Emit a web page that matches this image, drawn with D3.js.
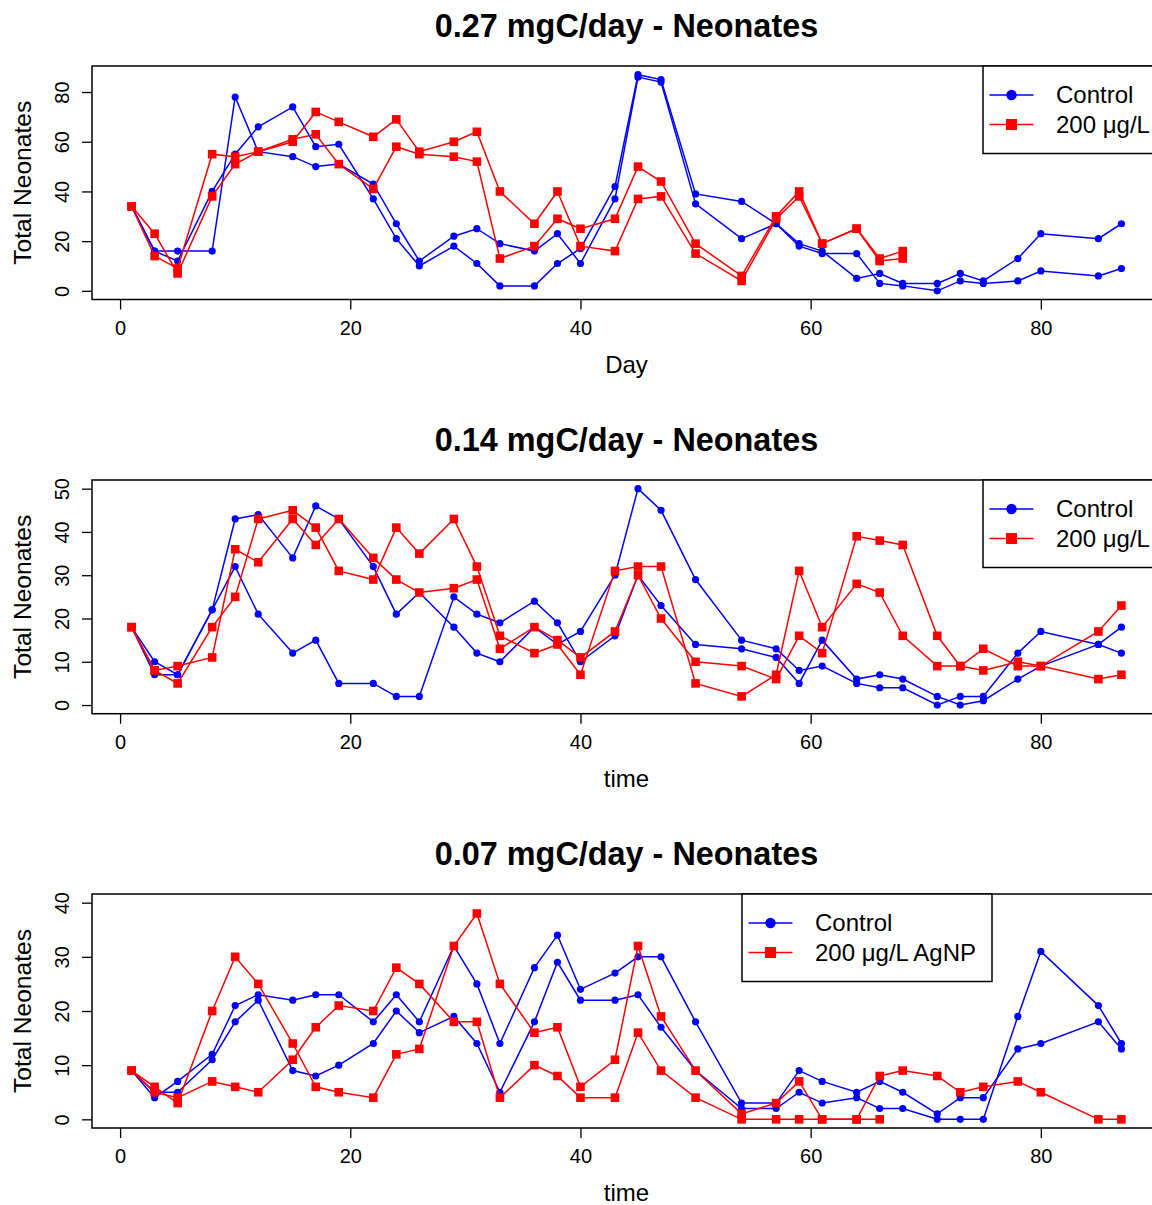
<!DOCTYPE html>
<html>
<head>
<meta charset="utf-8">
<script src="https://cdn.jsdelivr.net/npm/d3@7"></script>
<style>
  body { margin: 0; background: #fff; }
  svg { display: block; font-family: "Liberation Sans", Arial, Helvetica, sans-serif; }
</style>
</head>
<body>
<svg id="chart" width="1152" height="1205"></svg>
<script>
// ---- Data ----
const days = [1,3,5,8,10,12,15,17,19,22,24,26,29,31,33,36,38,40,43,45,47,50,54,57,59,61,64,66,68,71,73,75,78,80,85,87];

const xTicks = [0, 20, 40, 60, 80];
const p1YTicks = [0, 20, 40, 60, 80];
const p2YTicks = [0, 10, 20, 30, 40, 50];
const p3YTicks = [0, 10, 20, 30, 40];

const titles = ["0.27 mgC/day - Neonates", "0.14 mgC/day - Neonates", "0.07 mgC/day - Neonates"];
const xLabels = ["Day", "time", "time"];
const yLabel = "Total Neonates";
const legendLabels1 = ["Control", "200 \u03bcg/L"];
const legendLabels3 = ["Control", "200 \u03bcg/L AgNP"];

// Panel 1 (0.27 mgC/day)
const p1Control1 = [34,16,16,16,78,56,54,50,51,43,27,12,22,25,19,16,23,11,37,86,84,35,21,27,18,15,15,3,2,0,4,3,4,8,6,9];
const p1Control2 = [34,16,12,40,55,66,74,58,59,37,21,10,18,11,2,2,11,17,42,87,85,39,36,27,19,16,5,7,3,3,7,4,13,23,21,27];
const p1Treat1   = [34,23,7,38,51,56,61,63,51,41,58,55,54,52,13,18,29,25,29,50,44,19,6,30,40,19,25,13,16];
const p1Treat2   = [34,14,9,55,54,56,60,72,68,62,69,56,60,64,40,27,40,18,16,37,38,15,4,29,38,19,25,12,13];

// Panel 2 (0.14 mgC/day)
const p2Control1 = [18,10,7,22,43,44,34,46,43,32,21,26,18,12,10,18,14,17,30,50,45,29,15,13,8,9,5,4,4,0,2,2,12,17,14,12];
const p2Control2 = [18,7,7,22,32,21,12,15,5,5,2,2,25,21,19,24,19,10,16,30,23,14,13,11,5,15,6,7,6,2,0,1,6,9,14,18];
const p2Treat1   = [18,8,5,18,25,43,45,41,31,29,41,35,43,32,16,12,14,7,31,32,32,5,2,7,31,18,28,26,16,9,9,8,10,9,6,7];
const p2Treat2   = [18,8,9,11,36,33,43,37,43,34,29,26,27,29,13,18,15,11,17,30,20,10,9,6,16,12,39,38,37,16,9,13,9,9,17,23];

// Panel 3 (0.07 mgC/day)
const p3Control1 = [9,4,7,12,21,23,22,23,23,18,23,18,32,25,14,28,34,24,27,30,30,18,3,3,9,7,5,7,5,1,4,4,13,14,18,13];
const p3Control2 = [9,5,5,11,18,22,9,8,10,14,20,16,19,14,5,18,29,22,22,23,17,9,2,2,5,3,4,2,2,0,0,0,19,31,21,14];
const p3Treat1   = [9,6,3,20,30,25,14,6,5,4,12,13,32,38,25,16,17,6,11,32,19,9,1,3,7,0,0,8,9,8,5,6,7,5,0,0];
const p3Treat2   = [9,5,4,7,6,5,11,17,21,20,28,25,18,18,4,10,8,4,4,16,9,4,0,0,0,0,0,0];

// ---- Layout ----
const BLUE = "#0000ff", RED = "#ff0000";
const plotLeft = 92, plotRight = 1161;
const panels = [
  { top: 66,  bottom: 299.5, yDomain: [-3.48, 90.48], yTicks: p1YTicks,
    control: [p1Control1, p1Control2], treat: [p1Treat1, p1Treat2],
    title: titles[0], xLabel: xLabels[0], legend: { x0: 983, x1: 1161, labels: legendLabels1 } },
  { top: 480, bottom: 713.7, yDomain: [-2, 52], yTicks: p2YTicks,
    control: [p2Control1, p2Control2], treat: [p2Treat1, p2Treat2],
    title: titles[1], xLabel: xLabels[1], legend: { x0: 983, x1: 1161, labels: legendLabels1 } },
  { top: 894, bottom: 1128, yDomain: [-1.6, 41.6], yTicks: p3YTicks,
    control: [p3Control1, p3Control2], treat: [p3Treat1, p3Treat2],
    title: titles[2], xLabel: xLabels[2], legend: { x0: 742, x1: 992, labels: legendLabels3 } }
];

const svg = d3.select("#chart");
const x = d3.scaleLinear().domain([-2.44, 90.44]).range([plotLeft, plotRight]);

panels.forEach(p => {
  const y = d3.scaleLinear().domain(p.yDomain).range([p.bottom, p.top]);
  const g = svg.append("g");

  // Title
  g.append("text")
    .attr("x", (plotLeft + plotRight) / 2).attr("y", p.top - 29)
    .attr("text-anchor", "middle").attr("font-size", 32.4).attr("font-weight", "bold")
    .text(p.title);

  // x axis
  const xAxis = g.append("g").attr("transform", `translate(0,${p.bottom})`)
    .call(d3.axisBottom(x).tickValues(xTicks).tickSize(10).tickPadding(11).tickFormat(d3.format("d")));
  xAxis.select(".domain").remove();
  xAxis.selectAll("line").attr("stroke", "#000").attr("stroke-width", 1.3);
  xAxis.selectAll("text").attr("font-size", 20).attr("fill", "#000").attr("font-family", null);

  // y axis
  const yAxis = g.append("g").attr("transform", `translate(${plotLeft},0)`)
    .call(d3.axisLeft(y).tickValues(p.yTicks).tickSize(10).tickFormat(d3.format("d")));
  yAxis.select(".domain").remove();
  yAxis.selectAll("line").attr("stroke", "#000").attr("stroke-width", 1.3);
  yAxis.selectAll("text")
    .attr("x", null).attr("dy", "0.35em").attr("text-anchor", "middle")
    .attr("font-size", 20).attr("fill", "#000").attr("font-family", null)
    .attr("transform", "translate(-30,0) rotate(-90)");

  // Axis titles
  g.append("text")
    .attr("x", (plotLeft + plotRight) / 2).attr("y", p.bottom + 73)
    .attr("text-anchor", "middle").attr("font-size", 24).text(p.xLabel);
  g.append("text")
    .attr("transform", `translate(22,${(p.top + p.bottom) / 2}) rotate(-90)`)
    .attr("dy", "0.35em").attr("text-anchor", "middle").attr("font-size", 24.6).text(yLabel);

  // Series
  const line = d3.line().x(d => x(d.day)).y(d => y(d.v));
  const toPts = arr => arr.map((v, i) => ({ day: days[i], v }));

  p.control.forEach(arr => {
    const pts = toPts(arr);
    g.append("path").datum(pts).attr("d", line)
      .attr("fill", "none").attr("stroke", BLUE).attr("stroke-width", 1.5);
    g.selectAll(null).data(pts).enter().append("circle")
      .attr("cx", d => x(d.day)).attr("cy", d => y(d.v)).attr("r", 3.6).attr("fill", BLUE);
  });
  p.treat.forEach(arr => {
    const pts = toPts(arr);
    g.append("path").datum(pts).attr("d", line)
      .attr("fill", "none").attr("stroke", RED).attr("stroke-width", 1.5);
    g.selectAll(null).data(pts).enter().append("rect")
      .attr("x", d => x(d.day) - 4.3).attr("y", d => y(d.v) - 4.3)
      .attr("width", 8.6).attr("height", 8.6).attr("fill", RED);
  });

  // Plot box
  g.append("rect")
    .attr("x", plotLeft).attr("y", p.top)
    .attr("width", plotRight - plotLeft).attr("height", p.bottom - p.top)
    .attr("fill", "none").attr("stroke", "#000").attr("stroke-width", 1.5);

  // Legend
  const L = p.legend;
  const lg = g.append("g");
  lg.append("rect").attr("x", L.x0).attr("y", p.top)
    .attr("width", L.x1 - L.x0).attr("height", 87.5)
    .attr("fill", "#fff").attr("stroke", "#000").attr("stroke-width", 1.5);
  const rows = [
    { color: BLUE, shape: "circle", label: L.labels[0], yy: p.top + 29 },
    { color: RED, shape: "square", label: L.labels[1], yy: p.top + 58.5 }
  ];
  rows.forEach(r => {
    lg.append("line").attr("x1", L.x0 + 6.5).attr("x2", L.x0 + 50.5)
      .attr("y1", r.yy).attr("y2", r.yy).attr("stroke", r.color).attr("stroke-width", 1.5);
    if (r.shape === "circle") {
      lg.append("circle").attr("cx", L.x0 + 28.5).attr("cy", r.yy).attr("r", 5.2).attr("fill", r.color);
    } else {
      lg.append("rect").attr("x", L.x0 + 28.5 - 5.5).attr("y", r.yy - 5.5)
        .attr("width", 11).attr("height", 11).attr("fill", r.color);
    }
    lg.append("text").attr("x", L.x0 + 73).attr("y", r.yy).attr("dy", "0.35em")
      .attr("font-size", 24).text(r.label);
  });
});
</script>
</body>
</html>
